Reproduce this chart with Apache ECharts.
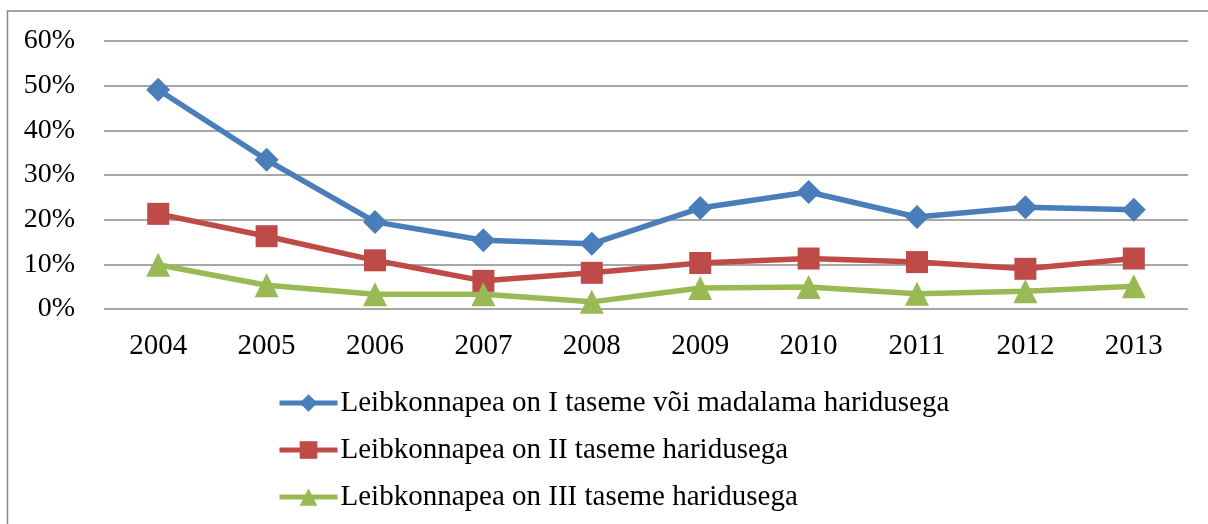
<!DOCTYPE html>
<html>
<head>
<meta charset="utf-8">
<script src="https://cdn.jsdelivr.net/npm/echarts@6/dist/echarts.min.js"></script>
<style>
  html, body { margin: 0; padding: 0; background: #fff; }
  #chart { width: 1208px; height: 524px; }
</style>
</head>
<body>
<div id="chart"></div>
<script>
var years = ['2004', '2005', '2006', '2007', '2008', '2009', '2010', '2011', '2012', '2013']
var seriesNames = [
  'Leibkonnapea on I taseme või madalama haridusega',
  'Leibkonnapea on II taseme haridusega',
  'Leibkonnapea on III taseme haridusega'
]
// väärtused protsentides
var level1 = [49.1, 33.4, 19.5, 15.4, 14.6, 22.6, 26.2, 20.6, 22.8, 22.2]
var level2 = [21.3, 16.3, 10.9, 6.3, 8.1, 10.3, 11.3, 10.5, 9.0, 11.3]
var level3 = [9.9, 5.3, 3.3, 3.3, 1.6, 4.7, 4.9, 3.4, 4.0, 5.1]

var font = '"Liberation Serif", "Times New Roman", serif'
var myChart = echarts.init(document.getElementById('chart'))

function makeSeries(name, data, color, symbol, size) {
  return {
    name: name,
    type: 'line',
    data: data,
    symbol: symbol,
    symbolSize: size,
    showAllSymbol: true,
    lineStyle: { color: color, width: 5.5 },
    itemStyle: { color: color },
    emphasis: { disabled: true },
    animation: false
  }
}

var option = {
  backgroundColor: '#fff',
  graphic: [
    {
      type: 'rect',
      shape: { x: 7.5, y: 11, width: 1230, height: 600 },
      style: { fill: 'none', stroke: '#868686', lineWidth: 1.5 },
      silent: true
    }
  ],
  grid: {
    left: 104,
    right: 20,
    top: 41,
    bottom: 215
  },
  legend: {
    orient: 'vertical',
    left: 277,
    top: 388,
    padding: 0,
    itemWidth: 58,
    itemHeight: 22,
    itemGap: 17,
    lineStyle: { width: 5 },
    textStyle: { fontFamily: font, fontSize: 29, color: '#000', lineHeight: 30, padding: [0, 0, 0, -2] },
    data: seriesNames
  },
  xAxis: {
    type: 'category',
    data: years,
    axisLine: { show: false },
    axisTick: { show: false },
    axisLabel: { fontFamily: font, fontSize: 29, color: '#000', margin: 23 }
  },
  yAxis: {
    type: 'value',
    min: 0,
    max: 60,
    interval: 10,
    axisLine: { show: false },
    axisTick: { show: false },
    splitLine: { lineStyle: { color: '#8a8a8a', width: 1.5 } },
    axisLabel: {
      fontFamily: font,
      fontSize: 28,
      color: '#000',
      margin: 29,
      formatter: '{value}%'
    }
  },
  series: [
    makeSeries(seriesNames[0], level1, '#4A7EBB', 'diamond', 24),
    makeSeries(seriesNames[1], level2, '#BE4B48', 'rect', 22),
    makeSeries(seriesNames[2], level3, '#98B954', 'triangle', 24)
  ]
}

myChart.setOption(option)
</script>
</body>
</html>
